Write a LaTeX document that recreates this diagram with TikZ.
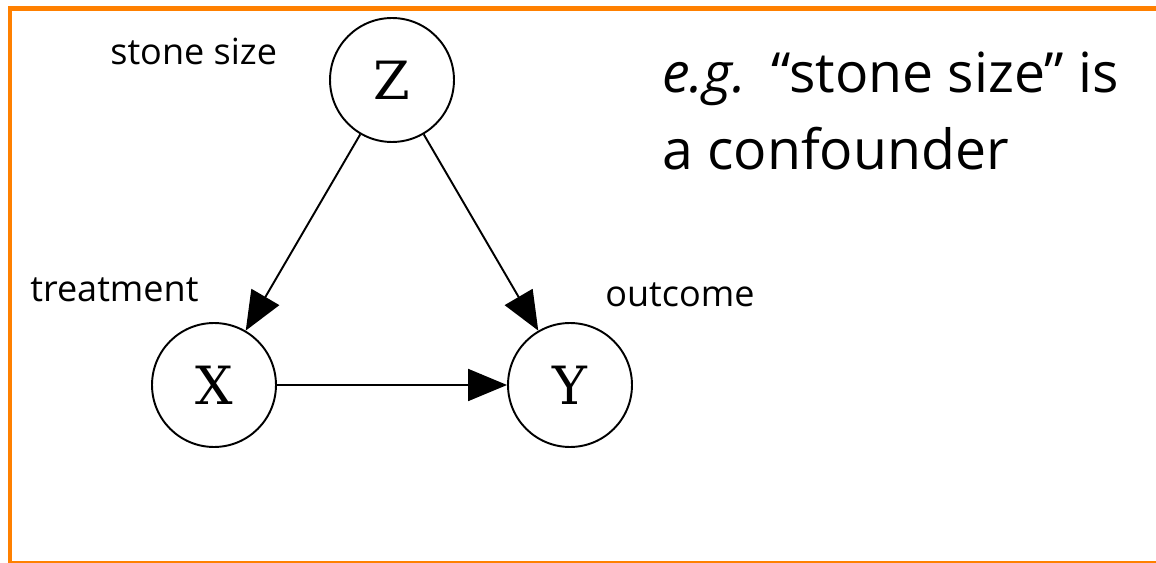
\documentclass[tikz,border=0pt]{standalone}
\usepackage{fontspec}
\newfontfamily\labelfont{Open Sans}
\newfontfamily\varfont{DejaVu Serif}
\usetikzlibrary{arrows.meta}
\definecolor{frameorange}{HTML}{FF8000}
\tikzset{
  var/.style={circle,draw,line width=1.1pt,minimum size=2.48cm,inner sep=0pt,font=\varfont\fontsize{30}{36}\selectfont},
  lbl/.style={anchor=base west,inner sep=0pt,font=\labelfont\fontsize{20.5}{24}\selectfont},
  note/.style={anchor=base west,inner sep=0pt,font=\labelfont\fontsize{31.5}{40}\selectfont},
  causal/.style={line width=1.1pt,-{Triangle[length=0.78cm,width=0.64cm]}}
}
\begin{document}
\begin{tikzpicture}[x=0.02cm,y=-0.02cm]
\useasboundingbox (0,0) rectangle (1156,563);
\draw[frameorange,line width=0.1cm] (10,563) -- (10,8.5) -- (1156,8.5);
\draw[frameorange,line width=0.04cm] (10,562) -- (1156,562);

\node[var] (z) at (392,80) {Z};
\node[var] (x) at (214,385) {X};
\node[var] (y) at (570,385) {Y};

\node[lbl] (zlab) at (110,65) {stone size};
\node[lbl] (xlab) at (30,302) {treatment};
\node[lbl] (ylab) at (605,307) {outcome};

\node[note] (note1) at (662,93) {\textit{e.g.}\hspace{0.5cm}“stone size” is};
\node[note] (note2) at (662,170) {a confounder};

\draw[causal] (z) -- (x);
\draw[causal] (z) -- (y);
\draw[causal] (x) -- (y);
\end{tikzpicture}
\end{document}
